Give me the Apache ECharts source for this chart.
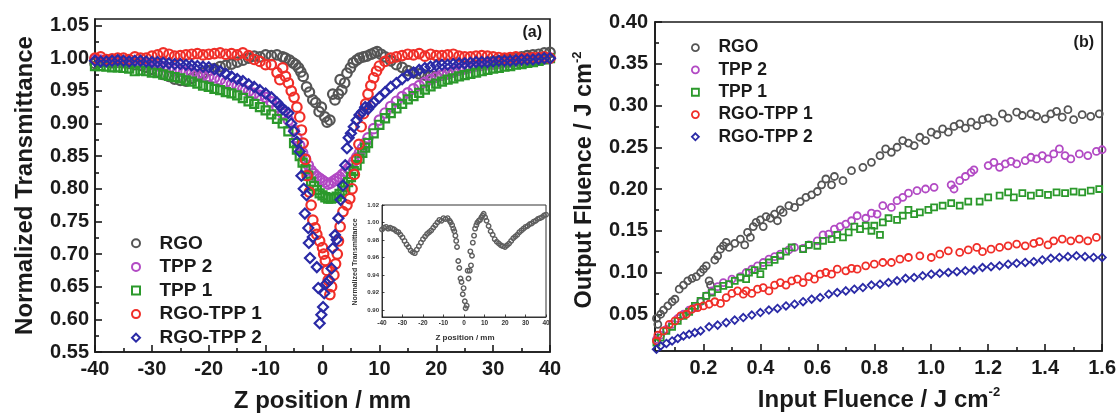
<!DOCTYPE html>
<html><head><meta charset="utf-8">
<script src="https://cdn.jsdelivr.net/npm/echarts@6/dist/echarts.min.js"></script>
<style>html,body{margin:0;padding:0;background:#fff}#c{width:1119px;height:419px}</style>
</head><body><div id="c"></div>
<script>
// ---------- names ----------
const seriesNames = ['RGO', 'TPP 2', 'TPP 1', 'RGO-TPP 1', 'RGO-TPP 2'];

// ---------- panel (a): [Z position (mm), normalized transmittance] ----------
const rgoA = [[-40,0.992],[-39,0.994],[-38,0.995],[-37,0.993],[-36,0.994],[-35,0.993],[-34,0.992],[-33,0.990],[-32,0.989],[-31,0.986],[-30,0.983],[-29,0.979],[-28,0.975],[-27,0.972],[-26,0.968],[-25,0.966],[-24,0.965],[-23,0.969],[-22,0.973],[-21,0.977],[-20,0.981],[-19,0.984],[-18,0.987],[-17,0.989],[-16,0.991],[-15,0.994],[-14,0.997],[-13,1.000],[-12,1.003],[-11,1.002],[-10,1.005],[-9,1.004],[-8,1.005],[-7,1.002],[-6.5,1.000],[-5.8,0.997],[-5.2,0.993],[-4.7,0.990],[-4.2,0.985],[-3.8,0.979],[-3.4,0.972],[-2.8,0.956],[-2.3,0.948],[-1.7,0.936],[-1.2,0.932],[-0.6,0.918],[-0.2,0.925],[0.4,0.910],[0.8,0.902],[1.3,0.905],[1.8,0.945],[2.2,0.936],[2.8,0.945],[3.1,0.967],[3.4,0.951],[3.9,0.962],[4.3,0.977],[4.9,0.985],[5.4,0.993],[6,0.997],[6.5,1.000],[7.2,1.002],[7.8,1.003],[8.5,1.006],[9.1,1.008],[9.6,1.010],[10.3,1.006],[11,1.002],[12,0.996],[13,0.990],[14,0.986],[15,0.981],[16,0.978],[17,0.976],[18,0.974],[19,0.973],[20,0.972],[21,0.974],[22,0.976],[23,0.979],[24,0.982],[25,0.984],[26,0.986],[27,0.989],[28,0.991],[29,0.993],[30,0.995],[31,0.996],[32,0.998],[33,0.999],[34,1.001],[35,1.002],[36,1.004],[37,1.005],[38,1.006],[39,1.008],[40,1.009]];

const tpp2A = [[-40,0.998],[-39,0.997],[-38,0.997],[-37,0.996],[-36,0.995],[-35,0.995],[-34,0.994],[-33,0.993],[-32,0.992],[-31,0.991],[-30,0.990],[-29,0.988],[-28,0.987],[-27,0.985],[-26,0.983],[-25,0.981],[-24,0.979],[-23,0.977],[-22,0.975],[-21,0.974],[-20,0.972],[-19,0.970],[-18,0.967],[-17,0.963],[-16,0.960],[-15,0.957],[-14,0.953],[-13,0.949],[-12,0.946],[-11,0.943],[-10,0.940],[-9,0.933],[-8,0.925],[-7,0.915],[-6,0.905],[-5,0.890],[-4.5,0.878],[-4,0.866],[-3.5,0.855],[-3,0.846],[-2.5,0.836],[-2,0.828],[-1.5,0.823],[-1,0.819],[-0.5,0.816],[0,0.813],[0.5,0.810],[1,0.807],[1.5,0.809],[2,0.812],[2.5,0.815],[3,0.818],[3.5,0.822],[4,0.826],[4.5,0.831],[5,0.836],[5.5,0.842],[6,0.848],[6.5,0.855],[7,0.862],[7.5,0.870],[8,0.878],[9,0.892],[10,0.905],[11,0.916],[12,0.926],[13,0.934],[14,0.941],[15,0.947],[16,0.953],[17,0.958],[18,0.963],[19,0.967],[20,0.971],[21,0.974],[22,0.977],[23,0.980],[24,0.982],[25,0.984],[26,0.986],[27,0.988],[28,0.989],[29,0.990],[30,0.991],[31,0.992],[32,0.993],[33,0.994],[34,0.995],[35,0.996],[36,0.997],[37,0.997],[38,0.998],[39,0.999],[40,1.000]];

const tpp1A = [[-40,0.988],[-39,0.988],[-38,0.987],[-37,0.986],[-36,0.986],[-35,0.985],[-34,0.984],[-33,0.980],[-32,0.981],[-31,0.980],[-30,0.978],[-29,0.977],[-28,0.975],[-27,0.973],[-26,0.971],[-25,0.969],[-24,0.966],[-23,0.964],[-22,0.961],[-21,0.958],[-20,0.956],[-19,0.953],[-18,0.951],[-17,0.948],[-16,0.946],[-15,0.943],[-14,0.939],[-13,0.934],[-12,0.930],[-11,0.925],[-10,0.920],[-9,0.914],[-8,0.907],[-7,0.900],[-6,0.888],[-5,0.870],[-4.5,0.860],[-4,0.850],[-3.5,0.840],[-3,0.830],[-2.5,0.820],[-2,0.811],[-1.5,0.804],[-1,0.798],[-0.5,0.793],[0,0.790],[0.5,0.787],[1,0.785],[1.5,0.785],[2,0.786],[2.5,0.788],[3,0.792],[3.5,0.797],[4,0.803],[4.5,0.810],[5,0.818],[5.5,0.827],[6,0.836],[6.5,0.846],[7,0.855],[7.5,0.863],[8,0.870],[9,0.885],[10,0.898],[11,0.908],[12,0.916],[13,0.923],[14,0.930],[15,0.937],[16,0.942],[17,0.947],[18,0.952],[19,0.957],[20,0.961],[21,0.964],[22,0.967],[23,0.969],[24,0.972],[25,0.974],[26,0.976],[27,0.978],[28,0.980],[29,0.982],[30,0.984],[31,0.985],[32,0.987],[33,0.988],[34,0.990],[35,0.991],[36,0.993],[37,0.994],[38,0.996],[39,0.998],[40,1.000]];

const rt1A = [[-40,1.000],[-39,1.002],[-38,0.998],[-37,0.999],[-36,1.000],[-35,1.000],[-34,0.998],[-33,1.002],[-32,1.000],[-31,1.000],[-30,1.003],[-29,1.005],[-28,1.008],[-27,1.006],[-26,1.003],[-25,1.004],[-24,1.005],[-23,1.006],[-22,1.007],[-21,1.005],[-20,1.006],[-19,1.007],[-18,1.008],[-17,1.006],[-16,1.007],[-15,1.005],[-14,1.008],[-13,1.004],[-12,0.998],[-11,0.995],[-10,0.990],[-9,0.990],[-8,0.978],[-7.5,0.967],[-7,0.985],[-6.5,0.972],[-6,0.962],[-5.5,0.950],[-5,0.940],[-4.5,0.925],[-4,0.910],[-3.7,0.890],[-3.4,0.870],[-3,0.845],[-2.7,0.820],[-2.3,0.795],[-2,0.775],[-1.7,0.752],[-1.3,0.740],[-1,0.730],[-0.5,0.720],[0,0.710],[0.2,0.700],[0.5,0.690],[0.8,0.675],[1,0.660],[1.3,0.638],[1.6,0.650],[2,0.668],[2.3,0.685],[2.6,0.700],[2.8,0.720],[3.1,0.742],[3.6,0.765],[4.3,0.775],[4.8,0.785],[5.2,0.800],[5.6,0.822],[6,0.845],[6.4,0.868],[6.8,0.895],[7.2,0.915],[7.6,0.930],[8,0.945],[8.5,0.958],[9,0.970],[9.5,0.980],[10,0.988],[11,0.995],[12,1.000],[13,1.002],[14,1.004],[15,1.006],[16,1.005],[17,1.007],[18,1.003],[19,1.006],[20,1.004],[21,1.004],[22,1.005],[23,1.006],[24,1.003],[25,1.002],[26,1.002],[27,1.003],[28,1.004],[29,1.003],[30,1.002],[31,1.001],[32,1.000],[33,1.001],[34,1.002],[35,1.000],[36,1.000],[37,1.001],[38,1.001],[39,1.002],[40,1.000]];

const rt2A = [[-40,0.996],[-39,0.995],[-38,0.995],[-37,0.996],[-36,0.997],[-35,0.996],[-34,0.995],[-33,0.996],[-32,0.996],[-31,0.995],[-30,0.994],[-29,0.994],[-28,0.993],[-27,0.992],[-26,0.991],[-25,0.991],[-24,0.990],[-23,0.989],[-22,0.988],[-21,0.987],[-20,0.986],[-19,0.983],[-18,0.980],[-17,0.976],[-16,0.972],[-15,0.968],[-14,0.965],[-13,0.960],[-12,0.956],[-11,0.951],[-10,0.946],[-9,0.940],[-8,0.932],[-7.5,0.927],[-7,0.922],[-6.5,0.919],[-6,0.916],[-5.5,0.900],[-5,0.888],[-4.5,0.872],[-4,0.857],[-3.7,0.820],[-3.3,0.800],[-3.1,0.762],[-2.8,0.790],[-2.5,0.740],[-2.4,0.717],[-2.2,0.694],[-1.7,0.726],[-1,0.680],[-0.75,0.648],[-0.5,0.594],[-0.2,0.607],[0.1,0.619],[0.3,0.640],[0.7,0.655],[1.2,0.660],[1.6,0.678],[1.8,0.709],[2.2,0.729],[2.5,0.722],[2.8,0.755],[3.2,0.783],[3.6,0.805],[4,0.836],[4.3,0.862],[4.6,0.878],[5,0.885],[5.5,0.895],[6,0.905],[6.5,0.913],[7,0.918],[7.5,0.925],[8,0.922],[8.5,0.928],[9,0.932],[10,0.940],[11,0.948],[12,0.956],[13,0.962],[14,0.968],[15,0.974],[16,0.978],[17,0.982],[18,0.985],[19,0.987],[20,0.989],[21,0.990],[22,0.990],[23,0.991],[24,0.992],[25,0.992],[26,0.993],[27,0.994],[28,0.994],[29,0.994],[30,0.995],[31,0.996],[32,0.996],[33,0.996],[34,0.997],[35,0.998],[36,0.998],[37,0.998],[38,0.999],[39,1.000],[40,1.000]];

// ---------- panel (b): [input fluence, output fluence] (J cm^-2) ----------
const rgoB = [[0.035,0.045],[0.04,0.038],[0.05,0.05],[0.06,0.055],[0.075,0.06],[0.09,0.065],[0.1,0.068],[0.115,0.08],[0.13,0.085],[0.145,0.09],[0.16,0.093],[0.175,0.095],[0.19,0.1],[0.2,0.104],[0.21,0.108],[0.22,0.09],[0.225,0.085],[0.24,0.115],[0.25,0.12],[0.26,0.128],[0.27,0.132],[0.28,0.136],[0.29,0.13],[0.31,0.135],[0.33,0.14],[0.345,0.133],[0.355,0.148],[0.365,0.142],[0.375,0.155],[0.385,0.16],[0.4,0.163],[0.41,0.155],[0.42,0.167],[0.435,0.165],[0.45,0.17],[0.46,0.162],[0.47,0.175],[0.48,0.172],[0.5,0.18],[0.52,0.178],[0.54,0.185],[0.56,0.19],[0.58,0.193],[0.6,0.197],[0.615,0.205],[0.63,0.212],[0.65,0.205],[0.66,0.215],[0.69,0.21],[0.72,0.222],[0.76,0.226],[0.79,0.232],[0.82,0.24],[0.84,0.248],[0.86,0.244],[0.88,0.25],[0.9,0.258],[0.92,0.255],[0.94,0.252],[0.96,0.262],[0.98,0.258],[1.0,0.268],[1.02,0.265],[1.04,0.272],[1.06,0.268],[1.08,0.275],[1.1,0.278],[1.12,0.273],[1.14,0.28],[1.16,0.276],[1.18,0.283],[1.2,0.285],[1.22,0.28],[1.25,0.29],[1.27,0.285],[1.3,0.292],[1.32,0.288],[1.35,0.29],[1.37,0.287],[1.4,0.284],[1.42,0.29],[1.44,0.293],[1.46,0.286],[1.48,0.295],[1.5,0.283],[1.53,0.289],[1.56,0.287],[1.59,0.29]];

const tpp2B = [[0.035,0.02],[0.05,0.025],[0.07,0.032],[0.09,0.038],[0.11,0.045],[0.13,0.05],[0.15,0.055],[0.17,0.058],[0.19,0.065],[0.21,0.072],[0.23,0.078],[0.25,0.083],[0.27,0.088],[0.3,0.092],[0.33,0.095],[0.35,0.1],[0.37,0.104],[0.39,0.108],[0.41,0.112],[0.43,0.116],[0.45,0.119],[0.47,0.122],[0.5,0.127],[0.52,0.13],[0.55,0.129],[0.57,0.133],[0.6,0.138],[0.62,0.145],[0.64,0.146],[0.66,0.152],[0.68,0.155],[0.7,0.158],[0.72,0.162],[0.74,0.168],[0.77,0.165],[0.79,0.171],[0.81,0.17],[0.83,0.18],[0.86,0.178],[0.88,0.186],[0.9,0.19],[0.92,0.195],[0.95,0.198],[0.98,0.2],[1.01,0.202],[1.07,0.205],[1.08,0.2],[1.1,0.21],[1.12,0.215],[1.14,0.22],[1.15,0.223],[1.2,0.228],[1.22,0.232],[1.24,0.226],[1.26,0.23],[1.28,0.233],[1.3,0.23],[1.33,0.234],[1.35,0.238],[1.37,0.236],[1.39,0.24],[1.41,0.236],[1.43,0.242],[1.45,0.248],[1.47,0.24],[1.49,0.236],[1.52,0.242],[1.55,0.24],[1.58,0.245],[1.6,0.247]];

const tpp1B = [[0.035,0.016],[0.05,0.022],[0.07,0.03],[0.09,0.035],[0.11,0.042],[0.13,0.048],[0.15,0.053],[0.17,0.06],[0.19,0.066],[0.21,0.072],[0.23,0.076],[0.25,0.08],[0.27,0.084],[0.29,0.086],[0.31,0.09],[0.33,0.094],[0.35,0.092],[0.36,0.1],[0.38,0.103],[0.4,0.098],[0.41,0.108],[0.43,0.112],[0.45,0.115],[0.47,0.12],[0.49,0.125],[0.51,0.13],[0.55,0.128],[0.57,0.133],[0.6,0.132],[0.62,0.138],[0.65,0.14],[0.67,0.145],[0.69,0.142],[0.71,0.148],[0.73,0.155],[0.75,0.152],[0.77,0.156],[0.79,0.15],[0.8,0.156],[0.82,0.145],[0.83,0.16],[0.85,0.165],[0.88,0.163],[0.9,0.168],[0.92,0.175],[0.94,0.17],[0.96,0.172],[0.99,0.175],[1.01,0.178],[1.04,0.18],[1.07,0.183],[1.1,0.18],[1.13,0.185],[1.17,0.185],[1.2,0.19],[1.24,0.192],[1.27,0.196],[1.29,0.19],[1.32,0.195],[1.35,0.192],[1.38,0.195],[1.41,0.193],[1.44,0.196],[1.47,0.195],[1.5,0.197],[1.53,0.196],[1.56,0.198],[1.59,0.2]];

const rt1B = [[0.035,0.018],[0.04,0.025],[0.06,0.03],[0.08,0.038],[0.1,0.042],[0.12,0.048],[0.14,0.05],[0.16,0.056],[0.18,0.058],[0.2,0.06],[0.22,0.062],[0.24,0.065],[0.26,0.063],[0.28,0.07],[0.3,0.075],[0.32,0.078],[0.34,0.074],[0.35,0.078],[0.37,0.075],[0.39,0.08],[0.41,0.082],[0.43,0.078],[0.45,0.085],[0.47,0.088],[0.49,0.085],[0.51,0.09],[0.53,0.092],[0.55,0.088],[0.57,0.095],[0.59,0.092],[0.61,0.098],[0.63,0.1],[0.65,0.098],[0.67,0.104],[0.7,0.102],[0.72,0.105],[0.74,0.104],[0.77,0.108],[0.8,0.11],[0.83,0.112],[0.86,0.112],[0.89,0.116],[0.92,0.118],[0.96,0.12],[1.0,0.118],[1.03,0.122],[1.06,0.126],[1.1,0.124],[1.13,0.127],[1.16,0.13],[1.18,0.125],[1.21,0.128],[1.24,0.13],[1.27,0.132],[1.3,0.134],[1.33,0.132],[1.36,0.135],[1.38,0.137],[1.41,0.133],[1.43,0.138],[1.46,0.14],[1.49,0.138],[1.52,0.14],[1.55,0.138],[1.58,0.142]];

const rt2B = [[0.035,0.008],[0.05,0.012],[0.07,0.015],[0.09,0.018],[0.11,0.021],[0.13,0.024],[0.15,0.026],[0.17,0.028],[0.19,0.03],[0.22,0.035],[0.25,0.037],[0.28,0.04],[0.31,0.043],[0.34,0.046],[0.37,0.049],[0.4,0.052],[0.43,0.055],[0.46,0.057],[0.49,0.06],[0.52,0.062],[0.55,0.065],[0.58,0.068],[0.61,0.07],[0.64,0.074],[0.67,0.076],[0.7,0.078],[0.73,0.08],[0.76,0.082],[0.79,0.085],[0.82,0.086],[0.85,0.088],[0.88,0.09],[0.91,0.093],[0.94,0.094],[0.97,0.096],[1.0,0.098],[1.03,0.099],[1.06,0.1],[1.09,0.101],[1.12,0.102],[1.15,0.103],[1.18,0.106],[1.21,0.107],[1.24,0.108],[1.27,0.11],[1.3,0.111],[1.33,0.112],[1.36,0.113],[1.39,0.115],[1.42,0.117],[1.45,0.118],[1.48,0.119],[1.51,0.12],[1.54,0.119],[1.57,0.118],[1.6,0.118]];

// ---------- tick labels ----------
const zTicks = [-40,-30,-20,-10,0,10,20,30,40];
const zMinor = [-35,-25,-15,-5,5,15,25,35];
const tTicks = [0.55,0.60,0.65,0.70,0.75,0.80,0.85,0.90,0.95,1.00,1.05];
const tMinor = [0.575,0.625,0.675,0.725,0.775,0.825,0.875,0.925,0.975,1.025];
const inTicks = [0.2,0.4,0.6,0.8,1.0,1.2,1.4,1.6];
const inMinor = [0.1,0.3,0.5,0.7,0.9,1.1,1.3,1.5];
const outTicks = [0.05,0.10,0.15,0.20,0.25,0.30,0.35,0.40];
const outMinor = [0.025,0.075,0.125,0.175,0.225,0.275,0.325,0.375];
const insetZTicks = [-40,-30,-20,-10,0,10,20,30,40];
const insetTTicks = [0.90,0.92,0.94,0.96,0.98,1.00,1.02];

// ---------- styling ----------
const AX = '#1a1a1a';
const FONT = '"Liberation Sans", Arial, Helvetica, sans-serif';
const COLORS = {'RGO':'#555555','TPP 2':'#b24ac4','TPP 1':'#2b992b','RGO-TPP 1':'#f02e28','RGO-TPP 2':'#2a2aa6'};
const SYMBOLS = {'RGO':'circle','TPP 2':'circle','TPP 1':'rect','RGO-TPP 1':'circle','RGO-TPP 2':'diamond'};

function mainAxis(grid, min, max, pos, ticks, fmt, fs, margin, tickLen, lw) {
  return {
    type: 'value', gridIndex: grid, min, max, position: pos,
    axisLine: {show: true, onZero: false, lineStyle: {color: AX, width: lw}},
    axisTick: {show: true, inside: true, length: tickLen, customValues: ticks, lineStyle: {color: AX, width: lw}},
    axisLabel: {show: true, customValues: ticks, formatter: fmt, color: AX, fontSize: fs,
      fontWeight: 'bold', fontFamily: FONT, margin},
    splitLine: {show: false}
  };
}
function minorAxis(grid, min, max, pos, ticks, tickLen, lw) {
  return {
    type: 'value', gridIndex: grid, min, max, position: pos,
    axisLine: {show: false, onZero: false},
    axisTick: {show: true, inside: true, length: tickLen, customValues: ticks, lineStyle: {color: AX, width: lw}},
    axisLabel: {show: false},
    splitLine: {show: false}
  };
}
function sc(name, data, xi, yi, size, bw, colorOverride) {
  const col = colorOverride || COLORS[name];
  const sym = SYMBOLS[name] || 'circle';
  return {
    type: 'scatter', name, xAxisIndex: xi, yAxisIndex: yi,
    data, symbol: sym,
    symbolSize: sym === 'rect' ? size * 0.85 : size,
    itemStyle: {color: 'rgba(0,0,0,0)', borderColor: col, borderWidth: bw, opacity: 1},
    emphasis: {disabled: true}, silent: true
  };
}

const f2 = v => Number(v).toFixed(2);
const f1 = v => Number(v).toFixed(1);
const f0 = v => String(Math.round(v));

function legendCfg(left, top, icon, fs, lh, bw) {
  return {
    orient: 'vertical', left, top, itemWidth: icon, itemHeight: icon, itemGap: 0,
    selectedMode: false, data: seriesNames,
    itemStyle: {borderWidth: bw},
    textStyle: {color: AX, fontSize: fs, fontWeight: 'bold', fontFamily: FONT, lineHeight: lh, padding: [0, 0, 0, 14.5]}
  };
}

const chart = echarts.init(document.getElementById('c'), null, {renderer: 'canvas'});
chart.setOption({
  animation: false,
  backgroundColor: '#ffffff',
  grid: [
    {left: 95, top: 19, width: 455, height: 333, show: true, borderColor: AX, borderWidth: 1.6},
    {left: 655, top: 22, width: 448, height: 329, show: true, borderColor: AX, borderWidth: 1.6},
    {left: 382, top: 205, width: 164, height: 112, show: true, borderColor: '#333', borderWidth: 1, backgroundColor: '#fff'}
  ],
  xAxis: [
    mainAxis(0, -40, 40, 'bottom', zTicks, f0, 20, 7, 7, 1.6),
    minorAxis(0, -40, 40, 'bottom', zMinor, 4, 1.6),
    mainAxis(1, 0.03, 1.6, 'bottom', inTicks, f1, 20, 7, 7, 1.6),
    minorAxis(1, 0.03, 1.6, 'bottom', inMinor, 4, 1.6),
    Object.assign(mainAxis(2, -40, 40, 'bottom', insetZTicks, f0, 6.5, 3, 2.5, 0.8),
      {axisLabel: {customValues: insetZTicks, formatter: f0, color: '#333', fontSize: 6.5, fontWeight: 'bold', fontFamily: FONT, margin: 3}})
  ],
  yAxis: [
    mainAxis(0, 0.55, 1.06, 'left', tTicks, f2, 20, 6, 7, 1.6),
    minorAxis(0, 0.55, 1.06, 'left', tMinor, 4, 1.6),
    mainAxis(1, 0.006, 0.40, 'left', outTicks, f2, 20, 7, 7, 1.6),
    minorAxis(1, 0.006, 0.40, 'left', outMinor, 4, 1.6),
    Object.assign(mainAxis(2, 0.892, 1.02, 'left', insetTTicks, f2, 6.5, 3, 2.5, 0.8),
      {axisLabel: {customValues: insetTTicks, formatter: f2, color: '#333', fontSize: 6, fontWeight: 'bold', fontFamily: FONT, margin: 3}})
  ],
  legend: [
    legendCfg(126, 226.5, 8, 19, 23.6, 2),
    legendCfg(686, 31.5, 7, 17.5, 22.3, 1.8)
  ],
  series: [
    sc('RGO', rgoA, 0, 0, 9.5, 2.2),
    sc('TPP 2', tpp2A, 0, 0, 9.5, 2.2),
    sc('TPP 1', tpp1A, 0, 0, 9.5, 2.2),
    sc('RGO-TPP 1', rt1A, 0, 0, 9.5, 2.2),
    sc('RGO-TPP 2', rt2A, 0, 0, 10, 2.2),
    sc('RGO', rgoB, 2, 2, 7, 1.8),
    sc('TPP 2', tpp2B, 2, 2, 7, 1.8),
    sc('TPP 1', tpp1B, 2, 2, 7, 1.8),
    sc('RGO-TPP 1', rt1B, 2, 2, 7, 1.8),
    sc('RGO-TPP 2', rt2B, 2, 2, 7.5, 1.8),
    Object.assign(sc('RGO inset', rgoA, 4, 4, 4.5, 1.4, '#5e5e5e'), {symbol: 'circle', symbolSize: 4.5, z: 5})
  ],
  graphic: [
    {type: 'text', x: 25, y: 185.5, rotation: Math.PI / 2, z: 10,
      style: {text: 'Normalized Transmittance', fontSize: 24, fontWeight: 'bold', fontFamily: FONT, fill: AX,
        align: 'center', verticalAlign: 'middle', textAlign: 'center', textVerticalAlign: 'middle'}},
    {type: 'text', x: 322.5, y: 401, z: 10,
      style: {text: 'Z position / mm', fontSize: 24, fontWeight: 'bold', fontFamily: FONT, fill: AX,
        align: 'center', verticalAlign: 'middle', textAlign: 'center', textVerticalAlign: 'middle'}},
    {type: 'text', x: 585, y: 180, rotation: Math.PI / 2, z: 10,
      style: {text: '{a|Output Fluence / J cm}{s|-2}', fill: AX,
        align: 'center', verticalAlign: 'middle', textAlign: 'center', textVerticalAlign: 'middle',
        rich: {a: {fontSize: 23.5, fontWeight: 'bold', fontFamily: FONT, fill: AX, lineHeight: 28},
               s: {fontSize: 13, fontWeight: 'bold', fontFamily: FONT, fill: AX, lineHeight: 13, verticalAlign: 'top'}}}},
    {type: 'text', x: 879, y: 400, z: 10,
      style: {text: '{a|Input Fluence / J cm}{s|-2}', fill: AX,
        align: 'center', verticalAlign: 'middle', textAlign: 'center', textVerticalAlign: 'middle',
        rich: {a: {fontSize: 24, fontWeight: 'bold', fontFamily: FONT, fill: AX, lineHeight: 28},
               s: {fontSize: 13, fontWeight: 'bold', fontFamily: FONT, fill: AX, lineHeight: 13, verticalAlign: 'top'}}}},
    {type: 'text', x: 542, y: 33, z: 10,
      style: {text: '(a)', fontSize: 16, fontWeight: 'bold', fontFamily: FONT, fill: AX,
        align: 'right', verticalAlign: 'middle', textAlign: 'right', textVerticalAlign: 'middle'}},
    {type: 'text', x: 1094, y: 43, z: 10,
      style: {text: '(b)', fontSize: 16, fontWeight: 'bold', fontFamily: FONT, fill: AX,
        align: 'right', verticalAlign: 'middle', textAlign: 'right', textVerticalAlign: 'middle'}},
    {type: 'text', x: 355, y: 262, rotation: Math.PI / 2, z: 10,
      style: {text: 'Normalized Transmittance', fontSize: 7, fontWeight: 'bold', fontFamily: FONT, fill: '#333',
        align: 'center', verticalAlign: 'middle', textAlign: 'center', textVerticalAlign: 'middle'}},
    {type: 'text', x: 465, y: 338, z: 10,
      style: {text: 'Z position / mm', fontSize: 8, fontWeight: 'bold', fontFamily: FONT, fill: '#333',
        align: 'center', verticalAlign: 'middle', textAlign: 'center', textVerticalAlign: 'middle'}}
  ]
});
</script>
</body></html>
